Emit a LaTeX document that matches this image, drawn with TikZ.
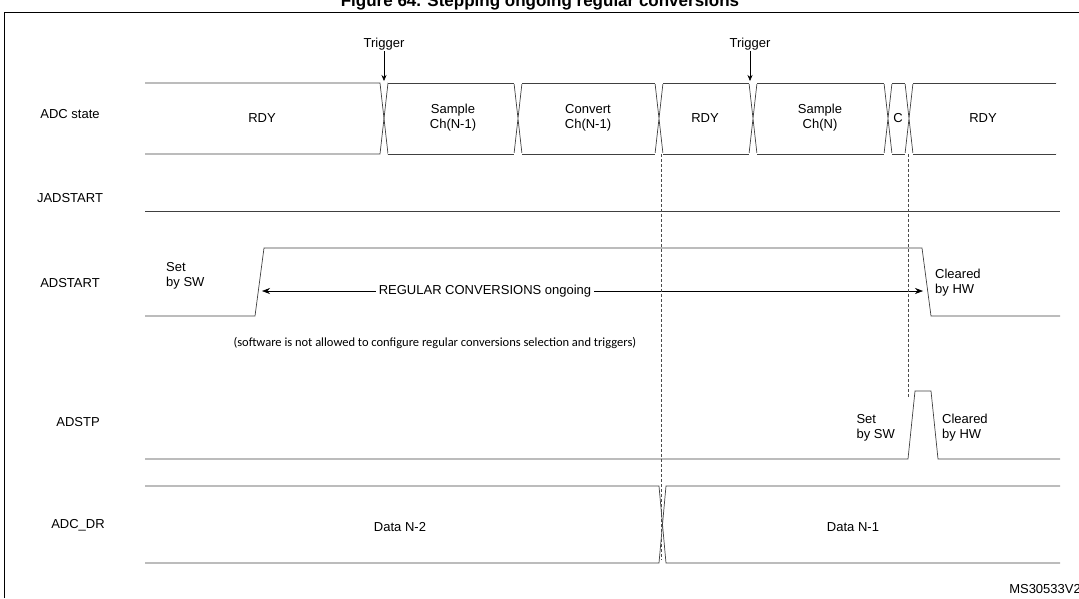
\documentclass[tikz,border=0pt]{standalone}
\usepackage{fontspec}
\setmainfont{Liberation Sans}
\newfontfamily\notefont{Carlito}
\usetikzlibrary{arrows.meta}
\tikzset{sig/.style={line width=0.7pt, black!75},
  lbl/.style={font=\fontsize{13}{15}\selectfont, align=left, inner sep=1pt},
  guide/.style={dash pattern=on 3pt off 2pt, line width=0.6pt, black!70}}
\begin{document}
\begin{tikzpicture}[x=1pt,y=-1pt]
\useasboundingbox (0,0) rectangle (1079,598);
\clip (0,0) rectangle (1079,598);
% title and frame
\node[font=\bfseries\fontsize{17}{19}\selectfont] (title) at (540,2) {Figure 64. Stepping ongoing regular conversions};
\draw[line width=0.8pt] (4,598) -- (4,12) -- (1079,12);
% signal names
\node[lbl] (nstate) at (70,114) {ADC state};
\node[lbl] (njad) at (70,198) {JADSTART};
\node[lbl] (nads) at (70,283) {ADSTART};
\node[lbl] (nstp) at (78,422) {ADSTP};
\node[lbl] (ndr) at (78,525) {ADC\_DR};
% ADC state bus
\draw[sig] (145,83) -- (380,83) -- (388,154) -- (1056,154);
\draw[sig] (145,154) -- (380,154) -- (388,83) -- (1056,83);
\foreach \x in {518,659,753,888,909}
  \draw[sig] (\x-4,83) -- (\x+4,154) (\x-4,154) -- (\x+4,83);
\draw[sig, white, line width=2pt] (388,83) -- (1056,83) (388,154) -- (1056,154);
\draw[sig] (388,83) -- (514,83) (522,83) -- (655,83) (663,83) -- (749,83)
  (757,83) -- (884,83) (892,83) -- (905,83) (913,83) -- (1056,83);
\draw[sig] (388,154) -- (514,154) (522,154) -- (655,154) (663,154) -- (749,154)
  (757,154) -- (884,154) (892,154) -- (905,154) (913,154) -- (1056,154);
\node[lbl] (s1) at (262,118) {RDY};
\node[lbl, align=center] (s2) at (453,118) {Sample\\Ch(N-1)};
\node[lbl, align=center] (s3) at (588,118) {Convert\\Ch(N-1)};
\node[lbl] (s4) at (705,118) {RDY};
\node[lbl, align=center] (s5) at (820,118) {Sample\\Ch(N)};
\node[lbl] (s6) at (898,118) {C};
\node[lbl] (s7) at (983,118) {RDY};
% triggers
\node[lbl] (trg1) at (384,44) {Trigger};
\node[lbl] (trg2) at (750,44) {Trigger};
\draw[-{Stealth[length=6pt,width=5pt]}, line width=0.6pt] (trg1.south) -- (384,81);
\draw[-{Stealth[length=6pt,width=5pt]}, line width=0.6pt] (trg2.south) -- (750,81);
% JADSTART
\draw[sig] (145,211) -- (1060,211);
% ADSTART
\draw[sig] (145,316) -- (255,316) -- (264,248) -- (922,248) -- (931,316) -- (1060,316);
\node[lbl] (setsw1) at (165,276) [anchor=west] {Set\\by SW};
\node[lbl] (clrhw1) at (934,283) [anchor=west] {Cleared\\by HW};
\coordinate (ongl) at (262,291);
\coordinate (ongr) at (923,291);
\node[lbl, fill=white, inner sep=3pt] (ongoing) at (485,291) {REGULAR CONVERSIONS ongoing};
\draw[-{Stealth[length=8pt,width=6pt]}, line width=0.6pt] (ongoing.west) -- (ongl);
\draw[-{Stealth[length=8pt,width=6pt]}, line width=0.6pt] (ongoing.east) -- (ongr);
\node[font=\notefont\fontsize{12.5}{14}\selectfont, anchor=west] (note) at (230,343)
  {(software is not allowed to configure regular conversions selection and triggers)};
% ADSTP
\draw[sig] (145,459) -- (908,459) -- (915,391) -- (931,391) -- (938,459) -- (1060,459);
\node[lbl] (setsw2) at (896,428) [anchor=east] {Set\\by SW};
\node[lbl] (clrhw2) at (941,428) [anchor=west] {Cleared\\by HW};
% ADC_DR bus
\draw[sig] (145,486) -- (659,486) -- (666,563) -- (1060,563);
\draw[sig] (145,563) -- (659,563) -- (666,486) -- (1060,486);
\node[lbl] (d1) at (400,527) {Data N-2};
\node[lbl] (d2) at (853,527) {Data N-1};
% guides
\draw[guide] (661,154) -- (661,560);
\draw[guide] (908,154) -- (908,398);
\node[lbl, anchor=east] (ref) at (1082,589) {MS30533V2};
\end{tikzpicture}
\end{document}
